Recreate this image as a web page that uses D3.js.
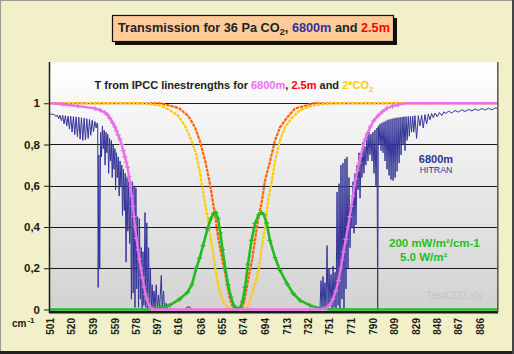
<!DOCTYPE html>
<html>
<head>
<meta charset="utf-8">
<script src="https://cdn.jsdelivr.net/npm/d3@7"></script>
<style>
  body { margin: 0; background: #fff; }
  svg { display: block; font-family: Arial, "Liberation Sans", sans-serif; }
</style>
</head>
<body>
<div id="chart"></div>
<script>
// x tick labels (cm-1) and y ticks
const xTickLabels = ["501", "520", "539", "559", "578", "597", "616", "636", "655", "674", "694",
  "713", "732", "751", "771", "790", "809", "829", "848", "867", "886"];
const yTickValues = [0, 0.2, 0.4, 0.6, 0.8, 1];
const yTickLabels = ["0", "0,2", "0,4", "0,6", "0,8", "1"];

// HITRAN transmission at 6800m  [wavenumber, T]
const hitran6800 = [
  [501.0, 0.947], [503.0, 0.947], [505.0, 0.944], [506.2, 0.935], [507.4, 0.943], [508.6, 0.925],
  [509.8, 0.942], [511.0, 0.915], [512.2, 0.941], [513.4, 0.90], [514.6, 0.94], [515.8, 0.89],
  [517.0, 0.938], [518.2, 0.875], [519.4, 0.937], [520.6, 0.86], [521.8, 0.935], [523.0, 0.848],
  [524.2, 0.934], [525.4, 0.838], [526.6, 0.932], [527.8, 0.826], [529.0, 0.93], [530.2, 0.82],
  [531.4, 0.928], [532.6, 0.822], [533.8, 0.925], [535.0, 0.83], [536.2, 0.922], [537.4, 0.845],
  [538.6, 0.918], [539.8, 0.862], [541.0, 0.912], [542.2, 0.88], [543.0, 0.905],
  [543.6, 0.90], [544.0, 0.107], [544.6, 0.75], [545.4, 0.20], [546.2, 0.86], [547.0, 0.74],
  [547.8, 0.89], [548.6, 0.78], [549.4, 0.87], [550.2, 0.70], [551.0, 0.86], [551.8, 0.76],
  [552.6, 0.85], [553.4, 0.66], [554.2, 0.83], [555.0, 0.72], [555.8, 0.82], [556.6, 0.64],
  [557.4, 0.80], [558.2, 0.68], [559.0, 0.78], [559.6, 0.58], [560.4, 0.76], [561.2, 0.64],
  [562.0, 0.74], [562.8, 0.55], [563.6, 0.72], [564.4, 0.60], [565.2, 0.70], [565.8, 0.456],
  [566.6, 0.68], [567.4, 0.48], [568.2, 0.66], [569.0, 0.23], [569.8, 0.64], [570.6, 0.38],
  [571.4, 0.62], [572.2, 0.32], [573.0, 0.61], [573.8, 0.05], [574.6, 0.62], [575.4, 0.08],
  [576.2, 0.60], [577.0, 0.01], [577.8, 0.59], [578.6, 0.10], [579.4, 0.45], [580.2, 0.01],
  [581.0, 0.44], [581.8, 0.05], [582.6, 0.30], [583.4, 0.005], [584.2, 0.28], [585.0, 0.02],
  [586.0, 0.47], [586.8, 0.01], [587.6, 0.42], [588.4, 0.0], [589.2, 0.30], [590.0, 0.01],
  [590.8, 0.20], [591.6, 0.0], [592.4, 0.12], [593.2, 0.01], [594.0, 0.09], [595.0, 0.0],
  [596.0, 0.12], [597.0, 0.0], [598.0, 0.07], [599.0, 0.0], [600.6, 0.165], [601.4, 0.0],
  [602.6, 0.09], [603.6, 0.0], [605.0, 0.03], [606.0, 0.0], [623.0, 0.0], [623.6, 0.012],
  [626.3, 0.012], [627.0, 0.0], [742.9, 0.0],
  [743.8, 0.14], [744.7, 0.0], [745.6, 0.16], [746.5, 0.01], [747.4, 0.13], [748.3, 0.0],
  [749.2, 0.31], [750.1, 0.0], [751.0, 0.20], [751.9, 0.02], [752.8, 0.17], [753.7, 0.0],
  [754.6, 0.21], [755.5, 0.01], [756.4, 0.18], [757.3, 0.0], [758.2, 0.57], [759.1, 0.02],
  [760.0, 0.61], [760.8, 0.0], [761.7, 0.70], [762.6, 0.05], [763.5, 0.71], [764.4, 0.0],
  [765.3, 0.73], [766.2, 0.10], [767.1, 0.74], [768.0, 0.20], [768.9, 0.64], [769.8, 0.30],
  [770.7, 0.50], [771.6, 0.40], [772.5, 0.62], [773.4, 0.37], [774.3, 0.66], [775.2, 0.41],
  [776.1, 0.70], [777.0, 0.58], [777.9, 0.76], [778.8, 0.54], [779.7, 0.74], [780.5, 0.64],
  [781.4, 0.81], [782.3, 0.66], [783.2, 0.79], [784.1, 0.70], [785.0, 0.85], [785.9, 0.72],
  [786.8, 0.86], [787.7, 0.75], [788.6, 0.85], [789.5, 0.72], [790.4, 0.86], [791.3, 0.66],
  [792.2, 0.87], [793.1, 0.60], [794.0, 0.88], [794.6, 0.0], [795.2, 0.89], [795.8, 0.80],
  [796.7, 0.90], [797.6, 0.77], [798.5, 0.905], [799.4, 0.76], [800.3, 0.91], [801.2, 0.72],
  [802.1, 0.915], [803.0, 0.68], [803.9, 0.92], [804.8, 0.65], [805.7, 0.922], [806.6, 0.63],
  [807.5, 0.925], [808.4, 0.625], [809.3, 0.927], [810.2, 0.64], [811.1, 0.93], [812.0, 0.67],
  [812.9, 0.93], [813.8, 0.71], [814.7, 0.932], [815.6, 0.75], [816.5, 0.933], [817.4, 0.80],
  [818.2, 0.935], [819.1, 0.77], [820.0, 0.935], [821.0, 0.82], [822.0, 0.936], [823.0, 0.84],
  [824.0, 0.937], [825.0, 0.86], [826.0, 0.938], [827.0, 0.86], [828.0, 0.94], [829.5, 0.83],
  [831.0, 0.94], [832.5, 0.89], [834.0, 0.942], [835.5, 0.88], [837.0, 0.945], [838.5, 0.90],
  [840.0, 0.947], [841.5, 0.92], [843.0, 0.95], [844.5, 0.93], [846.0, 0.952], [848.0, 0.935],
  [850.0, 0.955], [852.0, 0.94], [854.0, 0.958], [856.0, 0.95], [858.0, 0.962], [861.0, 0.953],
  [864.0, 0.965], [867.0, 0.957], [870.0, 0.968], [873.0, 0.96], [876.0, 0.97], [879.0, 0.963],
  [882.0, 0.972], [885.0, 0.965], [888.0, 0.975], [891.0, 0.967], [894.0, 0.976], [897.0, 0.968],
  [900.0, 0.977], [902.5, 0.975]
];

// IPCC linestrengths, 6800m
const ipcc6800 = [
  [501, 1.0], [512, 0.995], [526, 0.986], [541, 0.975], [546, 0.966], [550, 0.955], [552.5, 0.943],
  [554.6, 0.927], [557, 0.905], [559, 0.885], [560.5, 0.865], [562, 0.845], [563.5, 0.825],
  [565, 0.80], [566.5, 0.77], [568, 0.74], [569.2, 0.715], [570.3, 0.69], [571.6, 0.645],
  [573, 0.60], [574.1, 0.55], [575.2, 0.50], [576.1, 0.45], [577, 0.40], [578.3, 0.345],
  [579.7, 0.29], [581, 0.245], [582.4, 0.20], [583.7, 0.155], [585, 0.11], [586.4, 0.075],
  [587.8, 0.05], [589.6, 0.02], [591.4, 0.005], [594, 0.0], [742, 0.0], [746, 0.003],
  [749.2, 0.01], [752, 0.025], [754.6, 0.05], [757, 0.09], [759.5, 0.14], [761.5, 0.20],
  [762.8, 0.24], [764, 0.28], [766, 0.34], [768, 0.40], [769.5, 0.45], [771, 0.50],
  [772.4, 0.55], [773.7, 0.60], [775, 0.635], [776.5, 0.675], [778, 0.71], [779.5, 0.745],
  [781.9, 0.80], [783.5, 0.825], [785, 0.85], [788, 0.885], [791, 0.915], [795, 0.94],
  [799, 0.96], [803, 0.976], [808, 0.986], [813, 0.993], [820, 1.0], [902.5, 1.0]
];

// IPCC linestrengths, 2.5m
const ipcc25 = [
  [501, 1.0], [599, 1.0], [611, 0.985], [617, 0.975], [621, 0.955], [624.5, 0.94], [628.5, 0.905],
  [631, 0.88], [633, 0.85], [635.3, 0.815], [637, 0.78], [640, 0.72], [642.5, 0.655], [644.5, 0.60],
  [646, 0.55], [647.5, 0.50], [648.8, 0.46], [650.6, 0.38], [652, 0.335], [653.2, 0.30],
  [655.5, 0.235], [657.7, 0.18], [660, 0.11], [662.5, 0.045], [665, 0.012], [668.5, 0.0],
  [673, 0.005], [675.7, 0.058], [678.3, 0.14], [681.9, 0.238], [684.6, 0.335], [687.3, 0.432],
  [690.9, 0.53], [693.6, 0.626], [698.1, 0.72], [702.6, 0.82], [707, 0.883], [713.3, 0.93],
  [720.5, 0.975], [731.3, 0.99], [737, 1.0], [902.5, 1.0]
];

// IPCC linestrengths, 2*CO2
const ipcc2co2 = [
  [501, 1.0], [582, 1.0], [599.4, 0.99], [608.4, 0.966], [615.6, 0.94], [621.9, 0.89], [626, 0.84],
  [629, 0.80], [632, 0.75], [635, 0.67], [637.5, 0.59], [640, 0.51], [642, 0.45], [644, 0.37],
  [646.5, 0.29], [649, 0.20], [651.5, 0.12], [654, 0.07], [657, 0.03], [660, 0.01], [663, 0.003],
  [668, 0.0], [674, 0.002], [677.4, 0.01], [680.1, 0.044], [682.8, 0.092], [686.4, 0.155],
  [689.1, 0.238], [691.8, 0.335], [694.5, 0.432], [696.3, 0.53], [699.9, 0.626], [702.6, 0.72],
  [707, 0.82], [711.5, 0.883], [717.8, 0.93], [725, 0.966], [736.6, 0.99], [752, 1.0], [902.5, 1.0]
];

// difference flux, W/m2/cm-1 scaled (200 mW/m2/cm-1 total 5.0 W/m2)
const fluxDiff = [
  [501, 0], [590, 0], [594, 0.005], [600, 0.01], [608, 0.02], [617, 0.05], [624, 0.083], [628, 0.12],
  [632, 0.2], [635, 0.25], [638, 0.31], [642, 0.39], [645, 0.44], [647.5, 0.466], [649.5, 0.47],
  [651.5, 0.44], [653.5, 0.37], [655.5, 0.29], [658, 0.2], [660.5, 0.12], [663, 0.06], [665.5, 0.02],
  [668, 0.005], [669.5, 0.002], [671.5, 0.01], [673.5, 0.04], [675.7, 0.107], [678.3, 0.22],
  [681.5, 0.335], [684.6, 0.417], [688, 0.46], [690.5, 0.47], [692.5, 0.46], [695, 0.42],
  [698, 0.335], [702.6, 0.252], [707, 0.19], [713.3, 0.126], [718.8, 0.078], [725, 0.044],
  [734, 0.02], [743, 0.005], [752, 0], [902.5, 0]
];

const width = 514, height = 354;
const plotLeft = 50, plotRight = 498, plotTop = 62, plotBottom = 312;

const cBlue = "#333399", cPink = "#e870e8", cOrange = "#ff6600", cYellow = "#ffcc00", cGreen = "#22bb22";

const svg = d3.select("#chart").append("svg")
  .attr("width", width)
  .attr("height", height);

// chart area + frame
svg.append("rect").attr("width", width).attr("height", height).attr("fill", "#f2f0c8");
svg.append("rect").attr("x", 0).attr("y", 0).attr("width", width).attr("height", 1).attr("fill", "#9a9a9a");
svg.append("rect").attr("x", 0).attr("y", 0).attr("width", 1).attr("height", height).attr("fill", "#9a9a9a");
svg.append("rect").attr("x", 0).attr("y", 351).attr("width", width).attr("height", 3).attr("fill", "#222");
svg.append("rect").attr("x", 512).attr("y", 0).attr("width", 2).attr("height", height).attr("fill", "#444");

// plot area gradient
const grad = svg.append("defs").append("linearGradient")
  .attr("id", "plotBg").attr("x1", 0).attr("y1", 0).attr("x2", 0).attr("y2", 1);
grad.append("stop").attr("offset", "0%").attr("stop-color", "#ffffff");
grad.append("stop").attr("offset", "100%").attr("stop-color", "#d2d2d2");

svg.append("rect")
  .attr("x", plotLeft).attr("y", plotTop)
  .attr("width", plotRight - plotLeft).attr("height", plotBottom - plotTop)
  .attr("fill", "url(#plotBg)");

const x = d3.scaleLinear().domain([500.8, 902.5]).range([plotLeft, plotRight]);
const y = d3.scaleLinear().domain([0, 1.2]).range([309.5, plotTop]);

// horizontal grid
svg.append("g")
  .selectAll("line")
  .data(yTickValues.filter(v => v > 0))
  .join("line")
  .attr("x1", plotLeft).attr("x2", plotRight)
  .attr("y1", d => Math.round(y(d)) + 0.5)
  .attr("y2", d => Math.round(y(d)) + 0.5)
  .attr("stroke", "#1a1a1a")
  .attr("stroke-width", 1);

const line = d3.line().x(d => x(d[0])).y(d => y(d[1]));

const plot = svg.append("g");

// HITRAN
plot.append("path").datum(hitran6800)
  .attr("d", line).attr("fill", "none")
  .attr("stroke", cBlue).attr("stroke-width", 1);

// 2.5m and 2*CO2
plot.append("path").datum(ipcc25)
  .attr("d", line).attr("fill", "none")
  .attr("stroke", cOrange).attr("stroke-width", 2.2).attr("stroke-dasharray", "3.5,0.8");
plot.append("path").datum(ipcc2co2)
  .attr("d", line).attr("fill", "none")
  .attr("stroke", cYellow).attr("stroke-width", 2.2).attr("stroke-dasharray", "3.5,0.8");

const plus = "M-2.5,0H2.5M0,-2.5V2.5";

// flux difference
plot.append("path").datum(fluxDiff)
  .attr("d", line).attr("fill", "none")
  .attr("stroke", cGreen).attr("stroke-width", 2.6);
plot.append("g").selectAll("path")
  .data(fluxDiff.filter(d => d[1] > 0))
  .join("path")
  .attr("transform", d => `translate(${x(d[0])},${y(d[1])})`)
  .attr("d", plus).attr("stroke", cGreen).attr("stroke-width", 1.2);

// 6800m
plot.append("path").datum(ipcc6800)
  .attr("d", line).attr("fill", "none")
  .attr("stroke", cPink).attr("stroke-width", 2.4);
plot.append("g").selectAll("path")
  .data(ipcc6800.filter(d => d[1] > 0 && d[1] < 1))
  .join("path")
  .attr("transform", d => `translate(${x(d[0])},${y(d[1])})`)
  .attr("d", plus).attr("stroke", cPink).attr("stroke-width", 1.2);

// axes lines
svg.append("line").attr("x1", 49.5).attr("x2", 49.5).attr("y1", plotTop).attr("y2", plotBottom + 1)
  .attr("stroke", "#1a1a1a").attr("stroke-width", 1.5);
svg.append("line").attr("x1", 49).attr("x2", plotRight).attr("y1", 312.2).attr("y2", 312.2)
  .attr("stroke", "#1a1a1a").attr("stroke-width", 2.4);
svg.append("line").attr("x1", 497.8).attr("x2", 497.8).attr("y1", plotTop).attr("y2", plotBottom)
  .attr("stroke", "#555").attr("stroke-width", 1.5);

// Y axis ticks + labels
const yAxis = svg.append("g")
  .attr("transform", `translate(${plotLeft},0)`)
  .call(d3.axisLeft(y)
    .tickValues(yTickValues)
    .tickFormat((d, i) => yTickLabels[i])
    .tickSize(6)
    .tickPadding(4));
yAxis.select(".domain").remove();
yAxis.selectAll(".tick line").attr("stroke", "#1a1a1a");
yAxis.selectAll("text")
  .attr("fill", "#1a1a1a")
  .style("font-size", "11.5px")
  .style("font-weight", "700")
  .style("font-family", "Arial, 'Liberation Sans', sans-serif");

// X axis labels (rotated)
const xAxis = svg.append("g")
  .attr("transform", `translate(0,${plotBottom})`)
  .call(d3.axisBottom(x)
    .tickValues(xTickLabels.map(Number))
    .tickFormat(d => String(d))
    .tickSize(0));
xAxis.select(".domain").remove();
xAxis.selectAll("text")
  .attr("transform", "rotate(-90)")
  .attr("text-anchor", "end")
  .attr("x", -6)
  .attr("y", 0)
  .attr("dy", "0.35em")
  .attr("fill", "#1a1a1a")
  .style("font-size", "10px")
  .style("font-weight", "700")
  .style("font-family", "Arial, 'Liberation Sans', sans-serif");

// cm-1
const cm = svg.append("text")
  .attr("x", 12).attr("y", 327)
  .attr("fill", "#1a1a1a")
  .style("font-size", "10px").style("font-weight", "700");
cm.append("tspan").text("cm");
cm.append("tspan").attr("dx", 1).attr("dy", -4).style("font-size", "8px").text("-1");

// title box
svg.append("rect").attr("x", 115).attr("y", 18).attr("width", 282).attr("height", 27).attr("fill", "#111");
svg.append("rect").attr("x", 112.5).attr("y", 15.5).attr("width", 281).attr("height", 26)
  .attr("fill", "#ffcc99").attr("stroke", "#111").attr("stroke-width", 1.2);

const title = svg.append("text")
  .attr("x", 254).attr("y", 32)
  .attr("text-anchor", "middle")
  .attr("fill", "#222")
  .style("font-size", "12.7px").style("font-weight", "700");
title.append("tspan").text("Transmission for 36 Pa CO");
title.append("tspan").attr("dy", 3).style("font-size", "9.5px").text("2");
title.append("tspan").attr("dy", -3).text(", ");
title.append("tspan").attr("fill", cBlue).text("6800m");
title.append("tspan").text(" and ");
title.append("tspan").attr("fill", "#ff0000").text("2.5m");

// subtitle inside plot
const sub = svg.append("text")
  .attr("x", 234).attr("y", 89)
  .attr("text-anchor", "middle")
  .attr("fill", "#222")
  .style("font-size", "11px").style("font-weight", "700");
sub.append("tspan").text("T from IPCC linestrengths for ");
sub.append("tspan").attr("fill", "#f070f0").text("6800m");
sub.append("tspan").text(", ");
sub.append("tspan").attr("fill", "#ff0000").text("2.5m");
sub.append("tspan").text(" and ");
sub.append("tspan").attr("fill", cYellow).text("2*CO");
sub.append("tspan").attr("fill", cYellow).attr("dy", 3).style("font-size", "8px").text("2");

// HITRAN label
svg.append("text")
  .attr("x", 436).attr("y", 163)
  .attr("text-anchor", "middle")
  .attr("fill", cBlue)
  .style("font-size", "11px").style("font-weight", "700")
  .text("6800m");
svg.append("text")
  .attr("x", 436).attr("y", 172.5)
  .attr("text-anchor", "middle")
  .attr("fill", cBlue)
  .style("font-size", "8.8px")
  .text("HITRAN");

// flux labels
svg.append("text")
  .attr("x", 389).attr("y", 246.5)
  .attr("fill", "#22c022")
  .style("font-size", "11.5px").style("font-weight", "700")
  .text("200 mW/m²/cm-1");
svg.append("text")
  .attr("x", 400).attr("y", 260.5)
  .attr("fill", "#22c022")
  .style("font-size", "11.5px").style("font-weight", "700")
  .text("5.0 W/m²");

// file tag
svg.append("text")
  .attr("x", 426).attr("y", 298.5)
  .attr("fill", "#c4c4c4")
  .style("font-size", "10.5px")
  .text("TestCO2.xls");
</script>
</body>
</html>
